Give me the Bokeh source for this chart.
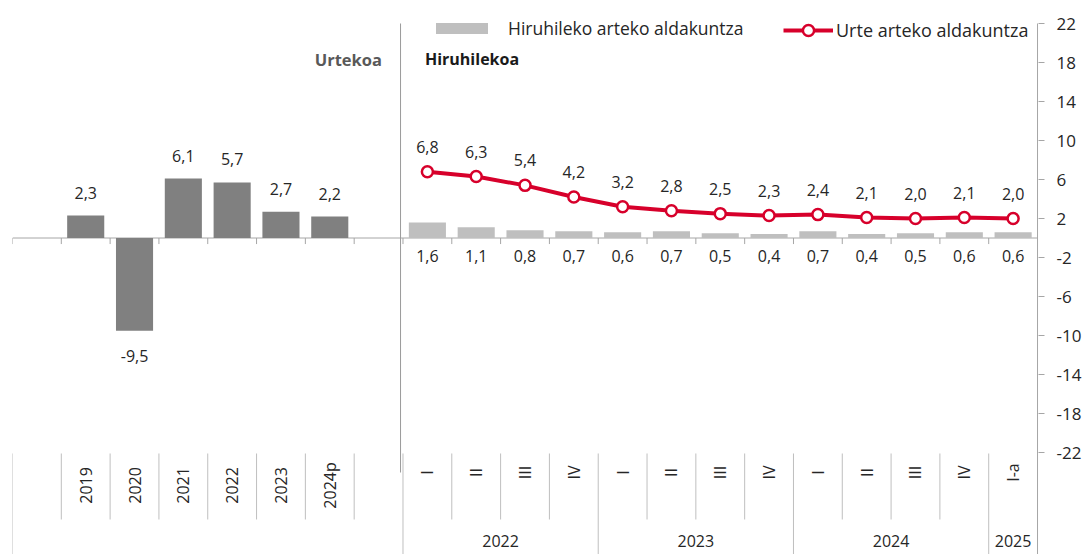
import math
from bokeh.plotting import figure
from bokeh.models import Range1d, FixedTicker, ColumnDataSource, Label, Legend, LegendItem
from bokeh.core.properties import value
from bokeh.embed import file_html
from bokeh.resources import INLINE

# ---------------- data ----------------
annual_years = ["2019", "2020", "2021", "2022", "2023", "2024p"]
annual_growth = [2.3, -9.5, 6.1, 5.7, 2.7, 2.2]

quarter_names = ["I", "II", "III", "IV", "I", "II", "III", "IV", "I", "II", "III", "IV", "I-a"]
quarter_groups = ["2022", "2023", "2024", "2025"]
quarter_group_sizes = [4, 4, 4, 1]
qoq_change = [1.6, 1.1, 0.8, 0.7, 0.6, 0.7, 0.5, 0.4, 0.7, 0.4, 0.5, 0.6, 0.6]
yoy_change = [6.8, 6.3, 5.4, 4.2, 3.2, 2.8, 2.5, 2.3, 2.4, 2.1, 2.0, 2.1, 2.0]

y_ticks = [22, 18, 14, 10, 6, 2, -2, -6, -10, -14, -18, -22]
legend_labels = ["Hiruhileko arteko aldakuntza", "Urte arteko aldakuntza"]
panel_titles = ["Urtekoa", "Hiruhilekoa"]

# ---------------- layout / style ----------------
FONT = "Open Sans"
DARK_BAR = "#808080"
LIGHT_BAR = "#bfbfbf"
RED = "#d7002b"
TEXT = "#262626"
AXIS = "#a6a6a6"
SEP = "#bfbfbf"

ANNUAL_SLOTS = 8          # blank + 6 years + blank
ANNUAL_START = 1
Q_START = ANNUAL_SLOTS
N_SLOTS = ANNUAL_SLOTS + len(quarter_names)
Y_TOP, Y_BOT = 24.36, -32.46
BAR_W = 0.76


def fmt(v):
    return f"{v:.1f}".replace(".", ",")


ann_x = [ANNUAL_START + i + 0.5 for i in range(len(annual_years))]
q_x = [Q_START + i + 0.5 for i in range(len(quarter_names))]

p = figure(width=1084, height=554,
           x_range=Range1d(0, N_SLOTS + 0.02), y_range=Range1d(Y_BOT, Y_TOP),
           x_axis_location=None, y_axis_location="right",
           output_backend="svg", toolbar_location=None,
           min_border_left=12, min_border_right=0, min_border_top=0, min_border_bottom=0)
p.outline_line_color = None
p.xgrid.visible = False
p.ygrid.visible = False
p.background_fill_color = "white"

ax = p.yaxis[0]
ax.ticker = FixedTicker(ticks=y_ticks)
ax.major_label_overrides = {t: str(t) for t in y_ticks}
ax.axis_line_color = None
ax.major_tick_line_color = AXIS
ax.major_tick_in = 0
ax.major_tick_out = 6
ax.minor_tick_line_color = None
ax.major_label_text_font = FONT
ax.major_label_text_font_size = "17px"
ax.major_label_text_color = TEXT
ax.major_label_standoff = 12

# own axis line starting at the top tick
p.segment(x0=[N_SLOTS], y0=[max(y_ticks)], x1=[N_SLOTS], y1=[Y_BOT], line_color=AXIS, line_width=1)

# zero line and its ticks
p.segment(x0=[0], y0=[0], x1=[N_SLOTS], y1=[0], line_color=AXIS, line_width=1)
bounds = list(range(0, N_SLOTS))
p.segment(x0=bounds, y0=[0] * len(bounds), x1=bounds, y1=[-0.62] * len(bounds),
          line_color=AXIS, line_width=1)

# annual bars
ann_src = ColumnDataSource(dict(
    x=ann_x, top=annual_growth, label=[fmt(v) for v in annual_growth],
    off=[-23 if v >= 0 else 25 for v in annual_growth]))
p.vbar(x="x", top="top", bottom=0, width=BAR_W, source=ann_src, fill_color=DARK_BAR, line_color=None)
p.text(x="x", y="top", text="label", y_offset="off", source=ann_src,
       text_align="center", text_baseline="middle", text_font=value(FONT),
       text_font_size="16px", text_color=TEXT)

# quarterly bars
q_src = ColumnDataSource(dict(
    x=q_x, qoq=qoq_change, yoy=yoy_change,
    qlab=[fmt(v) for v in qoq_change], ylab=[fmt(v) for v in yoy_change],
    zero=[0] * len(q_x)))
bars = p.vbar(x="x", top="qoq", bottom=0, width=BAR_W, source=q_src, fill_color=LIGHT_BAR, line_color=None)
p.text(x="x", y="zero", text="qlab", y_offset=18, source=q_src,
       text_align="center", text_baseline="middle", text_font=value(FONT),
       text_font_size="16px", text_color=TEXT)

line = p.line(x="x", y="yoy", source=q_src, line_color=RED, line_width=4)
pts = p.scatter(x="x", y="yoy", source=q_src, size=11, fill_color="white", line_color=RED, line_width=2.5)
p.text(x="x", y="yoy", text="ylab", y_offset=-25, source=q_src,
       text_align="center", text_baseline="middle", text_font=value(FONT),
       text_font_size="16px", text_color=TEXT)

# panel divider
p.segment(x0=[Q_START - 0.05], y0=[max(y_ticks)], x1=[Q_START - 0.05], y1=[-24.05],
          line_color="#9a9a9a", line_width=1)

# category separators
SEP_TOP, SHORT_BOT = -22.1, -28.87
tall = [0, Q_START]
acc = Q_START
for n in quarter_group_sizes:
    acc += n
    if acc < N_SLOTS:
        tall.append(acc)
short = [k for k in range(1, N_SLOTS) if k not in tall]
p.segment(x0=short, y0=[SEP_TOP] * len(short), x1=short, y1=[SHORT_BOT] * len(short),
          line_color=SEP, line_width=1)
p.segment(x0=tall, y0=[SEP_TOP] * len(tall), x1=tall, y1=[Y_BOT] * len(tall),
          line_color=SEP, line_width=1)

# category labels (rotated)
cat_src = ColumnDataSource(dict(x=ann_x, y=[-25.38] * len(ann_x), t=annual_years))
p.text(x="x", y="y", text="t", source=cat_src, angle=math.pi / 2,
       text_align="center", text_baseline="middle", text_font=value(FONT),
       text_font_size="16px", text_color=TEXT)
qcat_src = ColumnDataSource(dict(x=q_x, y=[-24.05] * len(q_x), t=quarter_names))
p.text(x="x", y="y", text="t", source=qcat_src, angle=math.pi / 2,
       text_align="center", text_baseline="middle", text_font=value(FONT),
       text_font_size="16px", text_color=TEXT)

# group labels
gx = []
acc = Q_START
for n in quarter_group_sizes:
    gx.append(acc + n / 2)
    acc += n
g_src = ColumnDataSource(dict(x=gx, y=[-31.1] * len(gx), t=quarter_groups))
p.text(x="x", y="y", text="t", source=g_src,
       text_align="center", text_baseline="middle", text_font=value(FONT),
       text_font_size="16px", text_color=TEXT)

# panel titles
p.add_layout(Label(x=Q_START - 0.43, y=18.31, text=panel_titles[0], text_align="right",
                   text_baseline="middle", text_font=FONT, text_font_style="bold",
                   text_font_size="16.5px", text_color="#595959"))
p.add_layout(Label(x=Q_START + 0.45, y=18.36, text=panel_titles[1], text_align="left",
                   text_baseline="middle", text_font=FONT, text_font_style="bold",
                   text_font_size="16px", text_color="#1a1a1a"))

# legends
common = dict(padding=0, margin=0, spacing=0, border_line_color=None, background_fill_alpha=0,
              label_text_font=FONT, label_text_color=TEXT,
              label_height=10, orientation="horizontal")
leg1 = Legend(items=[LegendItem(label=legend_labels[0], renderers=[bars])],
              location=(417, 514), glyph_width=65, glyph_height=14, label_standoff=14,
              label_text_font_size="17.5px", **common)
leg2 = Legend(items=[LegendItem(label=legend_labels[1], renderers=[line, pts])],
              location=(771, 510), glyph_width=50, glyph_height=28, label_standoff=3,
              label_text_font_size="18px", **common)
p.add_layout(leg1)
p.add_layout(leg2)

open("out.html", "w").write(file_html(p, INLINE))
